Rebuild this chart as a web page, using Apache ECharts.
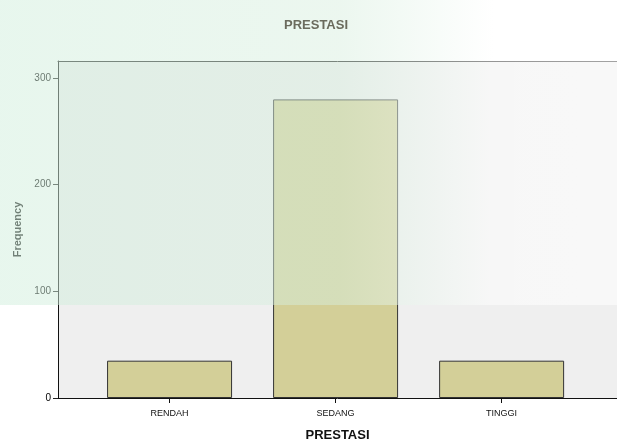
<!DOCTYPE html>
<html>
<head>
<meta charset="utf-8">
<script src="https://cdn.jsdelivr.net/npm/echarts@6/dist/echarts.min.js"></script>
<style>html,body{margin:0;padding:0;background:#fff}#c{width:617px;height:444px}</style>
</head>
<body>
<div id="c"></div>
<script>
const categories = ["RENDAH", "SEDANG", "TINGGI"];
const frequencies = [35, 280, 35];
const yTicks = [0, 100, 200, 300];

const chart = echarts.init(document.getElementById('c'), null, {renderer: 'canvas'});
const font = 'Liberation Sans, Arial, sans-serif';
chart.setOption({
  animation: false,
  backgroundColor: '#ffffff',
  title: {
    text: 'PRESTASI', left: 311, top: 14, textAlign: 'center', z: 20,
    textStyle: {fontFamily: font, fontSize: 13, fontWeight: 'bold', color: '#6b6b5d'}
  },
  grid: {
    left: 58, top: 61, right: 0, height: 337, outerBoundsMode: 'none', containLabel: false,
    show: true, backgroundColor: '#efefef', borderWidth: 0
  },
  xAxis: [{
    type: 'value', min: -0.672, max: 2.695,
    name: 'PRESTASI', nameLocation: 'middle', nameGap: 31,
    nameTextStyle: {fontFamily: font, fontSize: 13, fontWeight: 'bold', color: '#111'},
    axisLine: {show: true, onZero: false, lineStyle: {color: '#111', width: 1}},
    axisTick: {show: true, length: 5, lineStyle: {color: '#111'}, customValues: [0, 1, 2]},
    axisLabel: {
      fontFamily: font, fontSize: 9, color: '#111', margin: 11,
      customValues: [0, 1, 2],
      formatter: v => categories[Math.round(v)] || ''
    },
    splitLine: {show: false}
  }, {
    type: 'value', position: 'top', min: -0.672, max: 2.695,
    axisLine: {show: true, onZero: false, lineStyle: {color: '#222', width: 1}},
    axisTick: {show: false}, axisLabel: {show: false}, splitLine: {show: false}
  }],
  yAxis: {
    type: 'value', min: 0, max: 316,
    name: 'Frequency', nameLocation: 'middle', nameGap: 30, nameRotate: 90,
    nameTextStyle: {fontFamily: font, fontSize: 11, fontWeight: 'bold', color: '#111'},
    axisLine: {show: true, onZero: false, lineStyle: {color: '#111', width: 1}},
    axisTick: {show: true, length: 5, lineStyle: {color: '#222'}, customValues: yTicks},
    axisLabel: {fontFamily: font, fontSize: 10, color: '#000', margin: 7, customValues: yTicks},
    splitLine: {show: false}
  },
  series: [{
    type: 'bar',
    barWidth: 125,
    data: frequencies.map((v, i) => [i, v]),
    itemStyle: {color: '#d3cf98', borderColor: '#333', borderWidth: 1}
  }],
  graphic: [{
    type: 'rect', z: 15, silent: true,
    shape: {x: 0, y: 0, width: 617, height: 305},
    style: {
      fill: new echarts.graphic.LinearGradient(0, 0, 1, 0, [
        {offset: 0, color: 'rgba(208,238,220,0.5)'},
        {offset: 0.55, color: 'rgba(215,238,222,0.48)'},
        {offset: 0.8, color: 'rgba(255,255,255,0.52)'},
        {offset: 1, color: 'rgba(255,255,255,0.58)'}
      ])
    }
  }]
});
</script>
</body>
</html>
